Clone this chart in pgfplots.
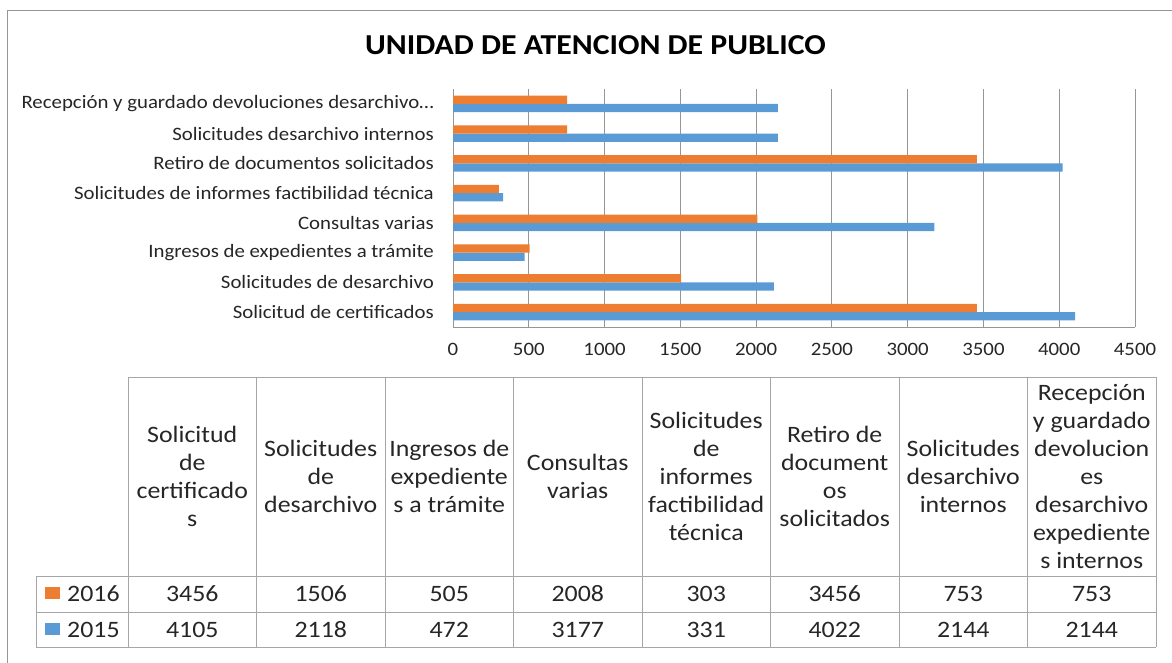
\documentclass[border=0pt]{standalone}
\usepackage{fontspec}
\setmainfont[FakeStretch=1.1]{Carlito}
\usepackage{pgfplots}
\pgfplotsset{compat=1.18}
\definecolor{orng}{HTML}{ED7D31}
\definecolor{blu}{HTML}{5B9BD5}
\definecolor{grd}{HTML}{969696}
\definecolor{tbl}{HTML}{A6A6A6}
\definecolor{txt}{HTML}{262626}
\newcommand{\tabf}{\fontsize{23.6}{28}\selectfont}
\begin{document}
\begin{tikzpicture}
\path[use as bounding box] (0,0) rectangle (1172bp,-663bp);
\begin{axis}[
  at={(453bp,-327bp)}, anchor=south west, scale only axis,
  width=682bp, height=238bp,
  xmin=0, xmax=4500, ymin=-0.5, ymax=7.5,
  xtick={0,500,...,4500}, ytick={0,...,7},
  yticklabels={Solicitud de certificados, Solicitudes de desarchivo, Ingresos de expedientes a trámite, Consultas varias, Solicitudes de informes factibilidad técnica, Retiro de documentos solicitados, Solicitudes desarchivo internos, Recepción y guardado devoluciones desarchivo…},
  xmajorgrids, major grid style={grd, line width=1bp},
  axis x line*=bottom, axis y line*=left,
  axis line style={grd, line width=1bp, -},
  major tick length=0pt, tick style={draw=none},
  ticklabel style={font=\fontsize{19}{23}\selectfont, text=txt},
  yticklabel style={inner sep=0pt, xshift=-19bp},
  xticklabel style={inner sep=0pt, yshift=-16bp},
  /pgf/number format/1000 sep={},
  /pgf/number format/assume math mode=true,
]
\addplot[xbar, bar width=8.3bp, bar shift=-4.15bp, fill=blu, draw=none]
  coordinates {(4105,0) (2118,1) (472,2) (3177,3) (331,4) (4022,5) (2144,6) (2144,7)};
\addplot[xbar, bar width=8.3bp, bar shift=4.15bp, fill=orng, draw=none]
  coordinates {(3456,0) (1506,1) (505,2) (2008,3) (303,4) (3456,5) (753,6) (753,7)};
\end{axis}
\begin{scope}[x=1bp, y=-1bp]
  \draw[grd, line width=1bp] (1172,10) -- (7,10) -- (7,663);
  \node[font=\fontsize{29}{34}\selectfont\bfseries, text=black] at (595.5,45) {UNIDAD DE ATENCION DE PUBLICO};
  % table grid
  \begin{scope}[tbl, line width=1bp]
    \draw (128,377) -- (1156,377);
    \draw (36,576) -- (1156,576);
    \draw (36,612) -- (1156,612);
    \draw (36,647) -- (1156,647);
    \draw (36,576) -- (36,647);
    \foreach \k in {0,...,8} \draw ({128+128.5*\k},377) -- ({128+128.5*\k},647);
  \end{scope}
  \begin{scope}[every node/.style={align=center, font=\tabf, text=txt, inner sep=0pt}]
    \node at ({192.25+128.5*0},476.5) {Solicitud\\de\\certificado\\s};
    \node at ({192.25+128.5*1},476.5) {Solicitudes\\de\\desarchivo};
    \node at ({192.25+128.5*2},476.5) {Ingresos de\\expediente\\s a trámite};
    \node at ({192.25+128.5*3},476.5) {Consultas\\varias};
    \node at ({192.25+128.5*4},476.5) {Solicitudes\\de\\informes\\factibilidad\\técnica};
    \node at ({192.25+128.5*5},476.5) {Retiro de\\document\\os\\solicitados};
    \node at ({192.25+128.5*6},476.5) {Solicitudes\\desarchivo\\internos};
    \node at ({192.25+128.5*7},476.5) {Recepción\\y guardado\\devolucion\\es\\desarchivo\\expediente\\s internos};
    \foreach \v [count=\i from 0] in {3456,1506,505,2008,303,3456,753,753}
      \node at ({192.25+128.5*\i},594) {\v};
    \foreach \v [count=\i from 0] in {4105,2118,472,3177,331,4022,2144,2144}
      \node at ({192.25+128.5*\i},629.5) {\v};
    \node[anchor=west] at (67,594) {2016};
    \node[anchor=west] at (67,629.5) {2015};
  \end{scope}
  \fill[orng] (45,587) rectangle (60,599);
  \fill[blu] (45,623) rectangle (60,635);
\end{scope}
\end{tikzpicture}
\end{document}
